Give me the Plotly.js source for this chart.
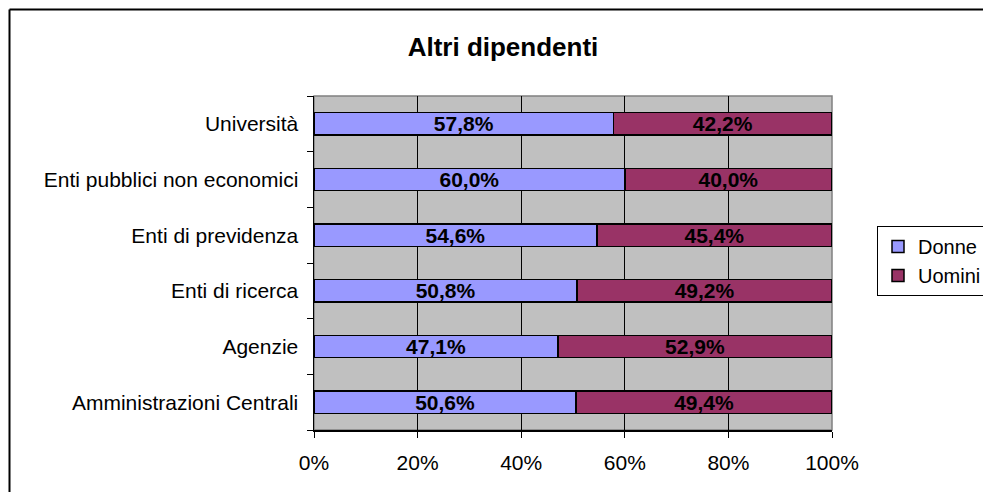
<!DOCTYPE html>
<html>
<head>
<meta charset="utf-8">
<script src="https://cdn.plot.ly/plotly-3.0.1.min.js"></script>
<style>
html,body{margin:0;padding:0;background:#fff;overflow:hidden;}
#chart{width:983px;height:492px;}
</style>
</head>
<body>
<div id="chart"></div>
<script>
// categories listed bottom to top
var categories = ["Amministrazioni Centrali", "Agenzie", "Enti di ricerca", "Enti di previdenza", "Enti pubblici non economici", "Università"];
var donne = [50.6, 47.1, 50.8, 54.6, 60.0, 57.8];
var uomini = [49.4, 52.9, 49.2, 45.4, 40.0, 42.2];
var seriesNames = ["Donne", "Uomini"];
var xTickVals = [0, 20, 40, 60, 80, 100];
var xTickText = ["0%", "20%", "40%", "60%", "80%", "100%"];

function fmt(v){ return v.toFixed(1).replace('.', ',') + '%'; }

var font = "Arial, 'Liberation Sans', sans-serif";

function barTrace(name, vals, color){
  return {
    type: 'bar', orientation: 'h', name: name,
    y: categories, x: vals,
    text: vals.map(fmt), textposition: 'inside', insidetextanchor: 'middle',
    textangle: 0, constraintext: 'none',
    textfont: {family: font, size: 21, color: '#000', weight: 'bold'},
    marker: {color: color, line: {color: '#000', width: 1.5}},
    hoverinfo: 'none'
  };
}

var data = [barTrace(seriesNames[0], donne, '#9999FF'), barTrace(seriesNames[1], uomini, '#993366')];

var L = 314, R = 832, T = 96, B = 430, W = 983, H = 492;
function px(x){ return (x - L) / (R - L); }
function py(y){ return (B - y) / (B - T); }

var layout = {
  width: W, height: H,
  margin: {l: L, r: W - R, t: T, b: H - B, pad: 0, autoexpand: false},
  paper_bgcolor: '#fff', plot_bgcolor: '#C0C0C0',
  font: {family: font, size: 21, color: '#000'},
  barmode: 'stack', bargap: 0.6,
  showlegend: true,
  title: {text: '<b>Altri dipendenti</b>', x: 503 / W, xref: 'container', xanchor: 'center',
          y: 1 - 47 / H, yref: 'container', yanchor: 'middle',
          font: {family: font, size: 26, color: '#000'}},
  xaxis: {range: [0, 100], tickvals: xTickVals, ticktext: xTickText,
          showgrid: true, gridcolor: '#000', gridwidth: 1,
          ticks: 'outside', ticklen: 6, tickcolor: '#000', tickwidth: 1,
          showline: true, linecolor: '#000', linewidth: 1.5,
          ticklabelstandoff: 7, zeroline: false, fixedrange: true, automargin: false,
          tickfont: {family: font, size: 21, color: '#000'}},
  yaxis: {type: 'category', showgrid: false,
          ticks: 'outside', tickson: 'boundaries', ticklen: 6, tickcolor: '#000', tickwidth: 1,
          showline: true, linecolor: '#000', linewidth: 1.5,
          ticklabelstandoff: 10, fixedrange: true, automargin: false,
          tickfont: {family: font, size: 21, color: '#000'}},
  legend: {x: 877 / W, y: 1 - 226 / H, xref: 'container', yref: 'container',
           xanchor: 'left', yanchor: 'top',
           traceorder: 'normal', bgcolor: '#fff', bordercolor: '#000', borderwidth: 1,
           font: {family: font, size: 20, color: '#000'}, itemwidth: 30,
           tracegroupgap: 0},
  shapes: [
    {type: 'rect', xref: 'paper', yref: 'paper', x0: 0, x1: 1, y0: 0, y1: 1,
     line: {color: '#808080', width: 1.5}, fillcolor: 'rgba(0,0,0,0)', layer: 'between'},
    {type: 'line', xref: 'paper', yref: 'paper', x0: px(9.5), x1: px(9.5), y0: py(9.5), y1: py(600),
     line: {color: '#000', width: 2}, layer: 'below'},
    {type: 'line', xref: 'paper', yref: 'paper', x0: px(9.5), x1: px(1200), y0: py(9.5), y1: py(9.5),
     line: {color: '#000', width: 2}, layer: 'below'}
  ]
};

Plotly.newPlot('chart', data, layout, {displayModeBar: false, staticPlot: true});
</script>
</body>
</html>
